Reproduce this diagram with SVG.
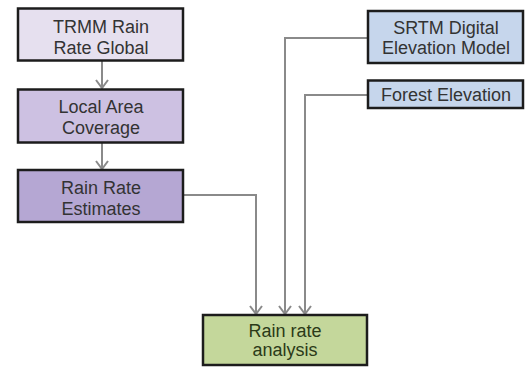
<svg xmlns="http://www.w3.org/2000/svg" width="525" height="369" viewBox="0 0 525 369">
<style>
  .box { stroke: #1c1c1c; stroke-width: 2.5; }
  .t { font-family: "Liberation Sans", Arial, sans-serif; font-size: 18px; fill: #333333; text-anchor: middle; }
  .tg { fill: #2b3a18; }
  .conn { fill: none; stroke: #8a8a8a; stroke-width: 2; }
</style>
<defs>
  <marker id="arr" markerUnits="userSpaceOnUse" markerWidth="12" markerHeight="16" viewBox="-10 -8 12 16" refX="0" refY="0" orient="auto">
    <path d="M-8,-6 L0,0 L-8,6" fill="none" stroke="#8a8a8a" stroke-width="2"/>
  </marker>
</defs>
<rect width="525" height="369" fill="#ffffff"/>
<g id="connectors">
  <path class="conn" d="M102,61 L102,88" marker-end="url(#arr)"/>
  <path class="conn" d="M102,143 L102,169" marker-end="url(#arr)"/>
  <path class="conn" d="M183,195 L256,195 L256,314" marker-end="url(#arr)"/>
  <path class="conn" d="M368,38 L285,38 L285,314" marker-end="url(#arr)"/>
  <path class="conn" d="M368,95 L305,95 L305,314" marker-end="url(#arr)"/>
</g>
<g id="trmm">
  <rect class="box" x="18" y="8.5" width="165" height="52" fill="#e6e0ef"/>
  <text class="t" x="101" y="33">TRMM Rain</text>
  <text class="t" x="101" y="54">Rate Global</text>
</g>
<g id="local-area">
  <rect class="box" x="18" y="89.5" width="165" height="53" fill="#cdc1e2"/>
  <text class="t" x="101" y="113">Local Area</text>
  <text class="t" x="101" y="134">Coverage</text>
</g>
<g id="rain-rate-estimates">
  <rect class="box" x="18" y="170" width="165" height="52" fill="#b5a7d3"/>
  <text class="t" x="101" y="194">Rain Rate</text>
  <text class="t" x="101" y="215">Estimates</text>
</g>
<g id="srtm">
  <rect class="box" x="368" y="11" width="155" height="52" fill="#c6d6ec"/>
  <text class="t" x="446" y="34">SRTM Digital</text>
  <text class="t" x="446" y="54">Elevation Model</text>
</g>
<g id="forest">
  <rect class="box" x="368" y="80.5" width="155" height="27.5" fill="#c6d6ec"/>
  <text class="t" x="446" y="101">Forest Elevation</text>
</g>
<g id="analysis">
  <rect class="box" x="203" y="315" width="164" height="50" fill="#c4d79b"/>
  <text class="t tg" x="285" y="337">Rain rate</text>
  <text class="t tg" x="285" y="356">analysis</text>
</g>
</svg>
